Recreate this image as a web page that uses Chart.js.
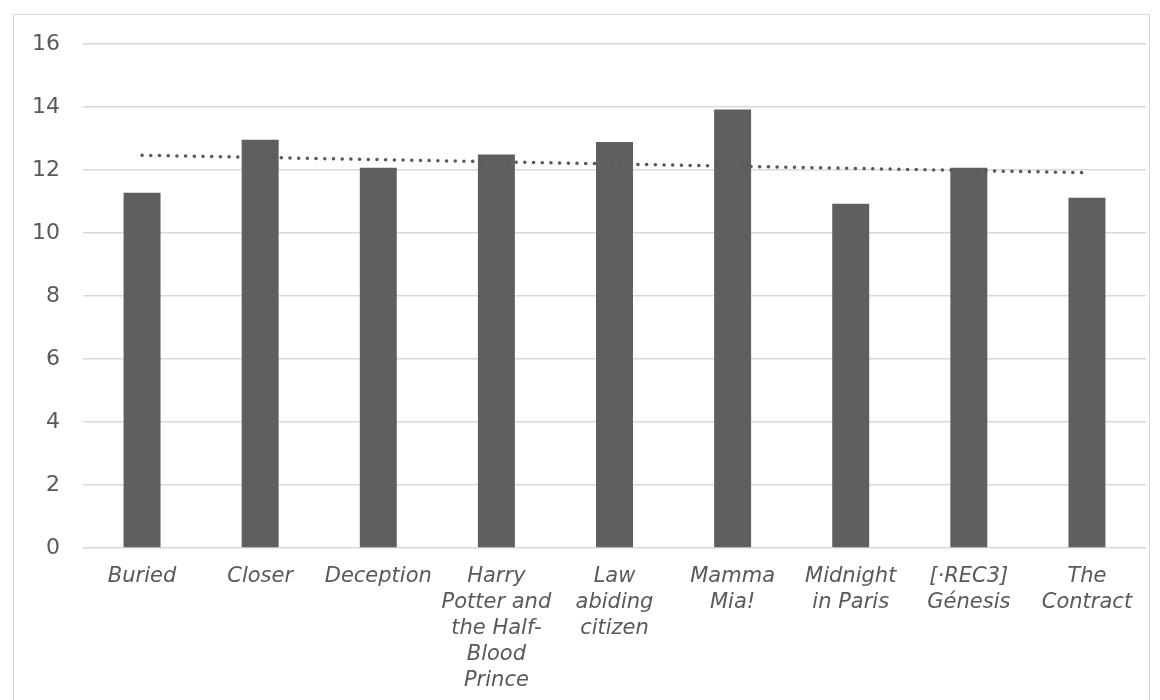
<!DOCTYPE html>
<html>
<head>
<meta charset="utf-8">
<script src="https://cdn.jsdelivr.net/npm/chart.js@4"></script>
<style>
  html, body { margin: 0; padding: 0; background: #fff; }
  #box {
    position: absolute; left: 13px; top: 14px;
    width: 1137px; height: 700px;
    border: 1px solid #d9d9d9; box-sizing: border-box;
  }
  canvas { display: block; }
</style>
</head>
<body>
<div id="box"><canvas id="movieChart"></canvas></div>
<script>
// Chart values
const movies = [
  ['Buried'],
  ['Closer'],
  ['Deception'],
  ['Harry', 'Potter and', 'the Half-', 'Blood', 'Prince'],
  ['Law', 'abiding', 'citizen'],
  ['Mamma', 'Mia!'],
  ['Midnight', 'in Paris'],
  ['[·REC3]', 'Génesis'],
  ['The', 'Contract']
];
const scores = [11.28, 12.96, 12.07, 12.49, 12.89, 13.92, 10.93, 12.07, 11.12];
const yTicks = [0, 2, 4, 6, 8, 10, 12, 14, 16];

// Linear trendline (least squares) over the bar values
function linearTrend(values) {
  const n = values.length;
  const xs = values.map((_, i) => i + 1);
  const mx = xs.reduce((a, b) => a + b, 0) / n;
  const my = values.reduce((a, b) => a + b, 0) / n;
  let num = 0, den = 0;
  xs.forEach((x, i) => { num += (x - mx) * (values[i] - my); den += (x - mx) * (x - mx); });
  const slope = num / den;
  return xs.map(x => my + slope * (x - mx));
}

const ctx = document.getElementById('movieChart').getContext('2d');
const chart = new Chart(ctx, {
  data: {
    labels: movies,
    datasets: [
      {
        type: 'line',
        data: linearTrend(scores),
        borderColor: '#595959',
        borderWidth: 3.5,
        borderDash: [0.1, 8.6],
        borderCapStyle: 'round',
        pointRadius: 0,
        fill: false,
        order: 0
      },
      {
        type: 'bar',
        data: scores,
        backgroundColor: '#5f5f5f',
        borderWidth: 0,
        categoryPercentage: 1,
        barPercentage: 0.313,
        order: 1
      }
    ]
  },
  options: {
    responsive: true,
    maintainAspectRatio: false,
    animation: false,
    layout: { padding: { top: 0, right: 3, left: 0, bottom: 0 } },
    plugins: {
      legend: { display: false },
      tooltip: { enabled: false }
    },
    scales: {
      x: {
        grid: { display: false, drawTicks: false },
        border: { display: false },
        ticks: {
          color: '#595959',
          padding: 16,
          maxRotation: 0,
          autoSkip: false,
          font: { family: 'DejaVu Sans', size: 21, style: 'italic', lineHeight: 1.23 }
        },
        afterFit: scale => { scale.height = 165; }
      },
      y: {
        min: 0,
        max: 16,
        afterBuildTicks: scale => { scale.ticks = yTicks.map(v => ({ value: v })); },
        grid: { color: '#d9d9d9', lineWidth: 1.5, drawTicks: false },
        border: { display: false },
        ticks: {
          color: '#595959',
          padding: 23,
          font: { family: 'DejaVu Sans', size: 22, lineHeight: 0.55 }
        },
        afterFit: scale => { scale.width = 69; }
      }
    }
  }
});
</script>
</body>
</html>
